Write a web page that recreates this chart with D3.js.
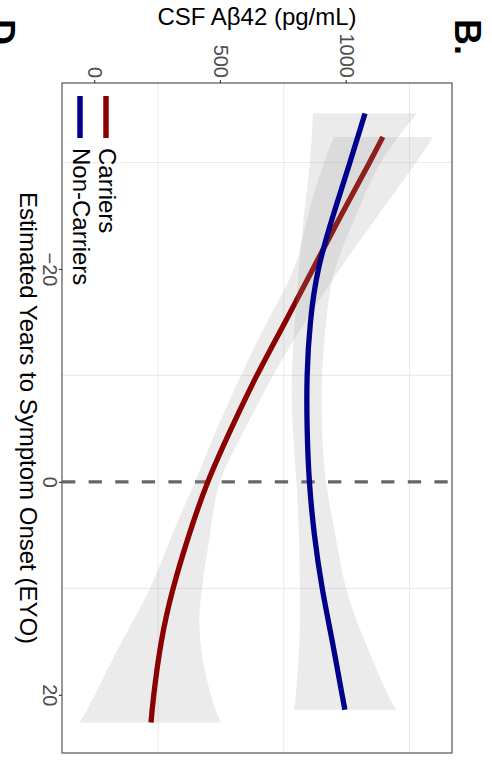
<!DOCTYPE html>
<html>
<head>
<meta charset="utf-8">
<script src="https://cdn.jsdelivr.net/npm/d3@7/dist/d3.min.js"></script>
<style>
  html, body { margin: 0; padding: 0; background: #ffffff; }
  svg { display: block; }
  text { font-family: "Liberation Sans", Arial, Helvetica, sans-serif; }
</style>
</head>
<body>
<svg id="chart" width="492" height="761"></svg>
<script>
// Estimated years to symptom onset and smoothed CSF Aβ42 with 95% band
const eyoCarriers   = [-32.4, -30, -25, -20, -15, -10, -5, 0, 5, 10, 15, 20, 22.6];
const fitCarriers   = [1144, 1091, 977, 866, 755, 643, 541, 448, 373, 310, 263, 233, 222];
const lowerCarriers = [950, 910, 846, 790, 683, 580, 484, 397, 305, 218, 106, -1, -61];
const upperCarriers = [1343, 1276, 1124, 973, 834, 707, 596, 496, 456, 424, 418, 460, 500];

const eyoNonCarriers   = [-34.6, -30, -25, -20, -15, -10, -5, 0, 5, 10, 15, 20, 21.4];
const fitNonCarriers   = [1073, 1013, 946, 888, 856, 843, 843, 852, 872, 903, 943, 982, 993];
const lowerNonCarriers = [866, 854, 830, 810, 794, 782, 786, 800, 810, 814, 812, 798, 790];
const upperNonCarriers = [1280, 1136, 1037, 954, 918, 902, 902, 918, 955, 998, 1073, 1164, 1200];

const groupNames  = ["Carriers", "Non-Carriers"];
const groupColors = ["#8B0000", "#00008B"];

const eyoTicks = [-20, 0, 20];
const eyoMinor = [-30, -10, 10];
const csfTicks = [0, 500, 1000];
const csfMinor = [250, 750, 1250];

const xTitle = "Estimated Years to Symptom Onset (EYO)";
const yTitle = "CSF Aβ42 (pg/mL)";

const groups = [
  { name: groupNames[0], color: groupColors[0],
    rows: eyoCarriers.map((e, i) => ({ eyo: e, fit: fitCarriers[i], lo: lowerCarriers[i], hi: upperCarriers[i] })) },
  { name: groupNames[1], color: groupColors[1],
    rows: eyoNonCarriers.map((e, i) => ({ eyo: e, fit: fitNonCarriers[i], lo: lowerNonCarriers[i], hi: upperNonCarriers[i] })) }
];

const W = 761, H = 492;              // plot frame before turning it on its side
const panel = { left: 83, right: 753, top: 40, bottom: 430 };

const svg = d3.select("#chart");
svg.append("rect").attr("width", 492).attr("height", 761).attr("fill", "#ffffff");

// the whole figure is turned a quarter turn clockwise
const g = svg.append("g").attr("transform", `translate(${H},0) rotate(90)`);

const x = d3.scaleLinear().domain([-37.46, 25.46]).range([panel.left, panel.right]);
const y = d3.scaleLinear().domain([-132, 1419]).range([panel.bottom, panel.top]);

// minor grid only
const grid = g.append("g");
grid.selectAll("line.gx").data(eyoMinor).join("line")
  .attr("x1", d => x(d)).attr("x2", d => x(d))
  .attr("y1", panel.top).attr("y2", panel.bottom)
  .attr("stroke", "#EBEBEB").attr("stroke-width", 1.1);
grid.selectAll("line.gy").data(csfMinor).join("line")
  .attr("y1", d => y(d)).attr("y2", d => y(d))
  .attr("x1", panel.left).attr("x2", panel.right)
  .attr("stroke", "#EBEBEB").attr("stroke-width", 1.1);

// symptom onset reference
g.append("line")
  .attr("x1", x(0)).attr("x2", x(0))
  .attr("y1", panel.bottom).attr("y2", panel.top)
  .attr("stroke", "#666666").attr("stroke-width", 3.3)
  .attr("stroke-dasharray", "13.3,13.3");

const area = d3.area()
  .x(d => x(d.eyo)).y0(d => y(d.lo)).y1(d => y(d.hi))
  .curve(d3.curveNatural);
const line = d3.line()
  .x(d => x(d.eyo)).y(d => y(d.fit))
  .curve(d3.curveNatural);

groups.forEach(grp => {
  g.append("path").attr("d", area(grp.rows))
    .attr("fill", "#999999").attr("fill-opacity", 0.2);
  g.append("path").attr("d", line(grp.rows))
    .attr("fill", "none").attr("stroke", grp.color).attr("stroke-width", 5.3);
});

// panel border
g.append("rect")
  .attr("x", panel.left).attr("y", panel.top)
  .attr("width", panel.right - panel.left).attr("height", panel.bottom - panel.top)
  .attr("fill", "none").attr("stroke", "#555555").attr("stroke-width", 1.2);

// axes
const fmtEyo = d => d < 0 ? "\u2212" + Math.abs(d) : String(d);
const xAxis = g.append("g").attr("transform", `translate(0,${panel.bottom})`)
  .call(d3.axisBottom(x).tickValues(eyoTicks).tickFormat(fmtEyo).tickSize(3).tickPadding(2));
const yAxis = g.append("g").attr("transform", `translate(${panel.left},0)`)
  .call(d3.axisLeft(y).tickValues(csfTicks).tickFormat(d3.format("d")).tickSize(3).tickPadding(2));
[xAxis, yAxis].forEach(a => {
  a.select(".domain").remove();
  a.selectAll(".tick line").attr("stroke", "#333333").attr("stroke-width", 1.1);
  a.selectAll(".tick text").attr("fill", "#4D4D4D").style("font-size", "20px")
    .style("font-family", "'Liberation Sans', Arial, Helvetica, sans-serif");
});

// axis titles
g.append("text")
  .attr("x", (panel.left + panel.right) / 2).attr("y", 472)
  .attr("text-anchor", "middle").style("font-size", "24px").attr("fill", "#000")
  .text(xTitle);
g.append("text")
  .attr("transform", `translate(25,${(panel.top + panel.bottom) / 2}) rotate(-90)`)
  .attr("text-anchor", "middle").style("font-size", "24px").attr("fill", "#000")
  .text(yTitle);

// legend inside the panel
const legendRows = [386, 412];
groups.forEach((grp, i) => {
  g.append("line")
    .attr("x1", 96).attr("x2", 138)
    .attr("y1", legendRows[i]).attr("y2", legendRows[i])
    .attr("stroke", grp.color).attr("stroke-width", 5.5);
  g.append("text")
    .attr("x", 148).attr("y", legendRows[i] + 7)
    .style("font-size", "24px").attr("fill", "#000")
    .text(grp.name);
});

// panel letters
g.append("text").attr("x", 19).attr("y", 37)
  .style("font-size", "36px").style("font-weight", "bold").text("B.");
g.append("text").attr("x", 19).attr("y", 503)
  .style("font-size", "36px").style("font-weight", "bold").text("D");
</script>
</body>
</html>
